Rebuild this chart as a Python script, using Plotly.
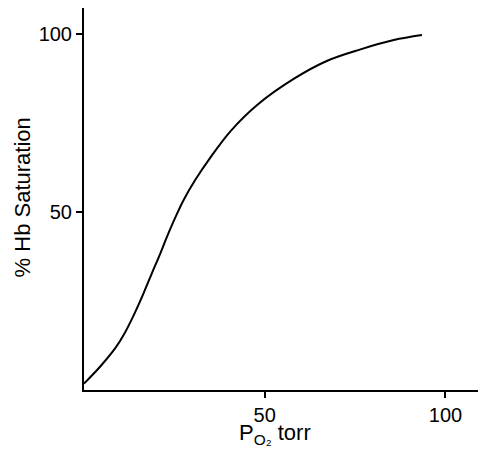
import plotly.graph_objects as go

po2 = [0, 4.5, 8.7, 11.0, 13.8, 16.5, 18.8, 21.1, 23.0, 25.3, 27.6, 30.8, 35.0, 40.5, 47.9, 58.0, 67.3, 76.5, 85.7, 93.5]
sat = [1.8, 6.6, 11.8, 15.5, 21.1, 27.2, 32.8, 38.3, 43.1, 48.5, 53.4, 59.0, 65.3, 72.6, 80.0, 87.3, 92.4, 95.6, 98.2, 99.6]
xticks = [50, 100]
yticks = [50, 100]

FONT = "Liberation Sans, Arial, sans-serif"

fig = go.Figure()
fig.add_trace(go.Scatter(x=po2, y=sat, mode="lines", line=dict(color="black", width=2, shape="spline", smoothing=1.0),
                         showlegend=False, hoverinfo="skip"))

axis_common = dict(showgrid=False, zeroline=False, showline=True, linecolor="black", linewidth=2,
                   ticks="outside", ticklen=6, tickwidth=1.5, tickcolor="black", automargin=False,
                   tickfont=dict(family=FONT, size=20, color="black"))
fig.update_xaxes(range=[0, 109.0], tickvals=xticks, **axis_common)
fig.update_yaxes(range=[0, 107.2], tickvals=yticks, **axis_common)

fig.add_annotation(text="P<sub>O₂</sub> torr", xref="paper", yref="paper", x=0.486, y=-0.116,
                   xanchor="center", yanchor="middle", showarrow=False,
                   font=dict(family=FONT, size=22, color="black"))
fig.add_annotation(text="% Hb Saturation", xref="paper", yref="paper", x=-0.156, y=0.503, textangle=-90,
                   xanchor="center", yanchor="middle", showarrow=False,
                   font=dict(family=FONT, size=22, color="black"))

fig.update_layout(width=470, height=440, margin=dict(l=76, r=0, t=0, b=57.5),
                  plot_bgcolor="white", paper_bgcolor="white")
fig.write_html("out.html")
